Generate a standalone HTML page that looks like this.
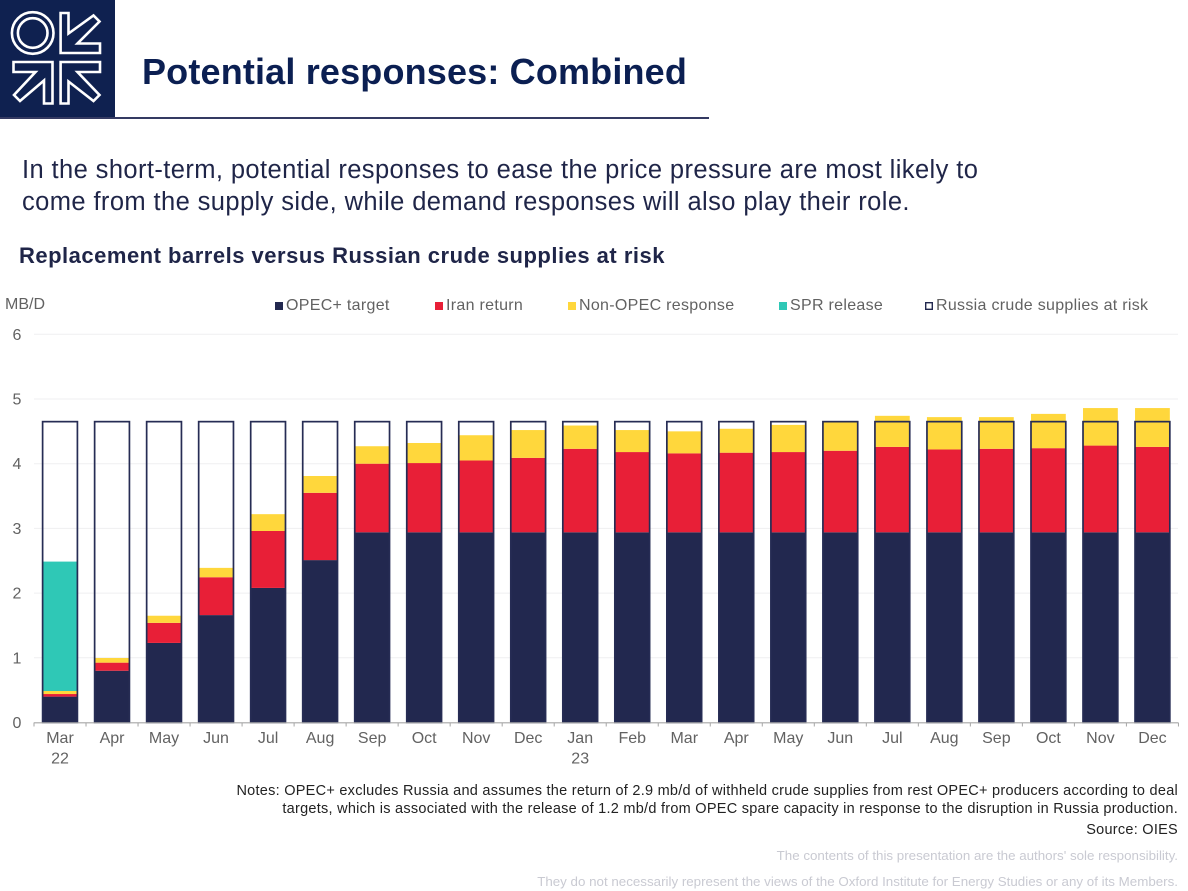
<!DOCTYPE html>
<html lang="en">
<head>
<meta charset="utf-8">
<title>Potential responses: Combined</title>
<style>
html,body{margin:0;padding:0;background:#fff;}
#slide{position:relative;width:1188px;height:891px;overflow:hidden;background:#fff;font-family:"Liberation Sans",sans-serif;}
.t{position:absolute;white-space:nowrap;}
.r{position:absolute;white-space:nowrap;right:10px;text-align:right;font-size:14.5px;line-height:18px;letter-spacing:.26px;}
.d{position:absolute;white-space:nowrap;right:10px;text-align:right;font-size:13.35px;line-height:18px;color:#c9cad2;}
svg text{font-family:"Liberation Sans",sans-serif;}
</style>
</head>
<body>
<div id="slide">
  <svg style="position:absolute;left:0;top:0" width="115" height="118" viewBox="0 0 115 118">
    <rect width="115" height="118" fill="#0f2150"/>
    <g fill="none" stroke="#fff" stroke-width="2.6">
      <circle cx="32.7" cy="33" r="20.8"/>
      <circle cx="32.7" cy="33" r="14.8"/>
      <polygon points="60.6,13 68.5,13 68.5,33.5 93.5,15.5 99.5,21.5 77.5,43.5 100,43.5 100,53 60.6,53"/>
      <polygon points="60.6,62 60.6,103.5 68.5,103.5 68.5,81.5 93.5,101 99.5,95 77.5,72 100,72 100,62"/>
      <polygon points="13.5,62 52.5,62 52.5,103.5 44,103.5 44,80.5 20,101 14,95 35.5,72 13.5,72"/>
    </g>
  </svg>
  <div style="position:absolute;left:0;top:117px;width:709px;height:2.2px;background:#343a62"></div>
  <div class="t" style="left:142px;top:51px;font-size:36px;line-height:42px;font-weight:bold;color:#0b1f52;letter-spacing:.17px">Potential responses: Combined</div>
  <div class="t" style="left:22px;top:155px;font-size:25.5px;line-height:31px;color:#1f2548;letter-spacing:.4px">In the short-term, potential responses to ease the price pressure are most likely to</div>
  <div class="t" style="left:22px;top:187px;font-size:25.5px;line-height:31px;color:#1f2548;letter-spacing:.4px">come from the supply side, while demand responses will also play their role.</div>
  <div class="t" style="left:19px;top:243px;font-size:22px;line-height:26px;font-weight:bold;color:#1f2548;letter-spacing:.5px">Replacement barrels versus Russian crude supplies at risk</div>

  <svg id="chart" style="position:absolute;left:0;top:290px" width="1188" height="490" viewBox="0 290 1188 490"></svg>

  <div class="r" style="top:782px;color:#222">Notes: OPEC+ excludes Russia and assumes the return of 2.9 mb/d of withheld crude supplies from rest OPEC+ producers according to deal</div>
  <div class="r" style="top:800px;color:#222">targets, which is associated with the release of 1.2 mb/d from OPEC spare capacity in response to the disruption in Russia production.</div>
  <div class="r" style="top:821px;color:#222">Source: OIES</div>
  <div class="d" style="top:847px">The contents of this presentation are the authors' sole responsibility.</div>
  <div class="d" style="top:873px">They do not necessarily represent the views of the Oxford Institute for Energy Studies or any of its Members.</div>
</div>
<script>
const categories = ["Mar","Apr","May","Jun","Jul","Aug","Sep","Oct","Nov","Dec","Jan","Feb","Mar","Apr","May","Jun","Jul","Aug","Sep","Oct","Nov","Dec"];
const subLabels = {0:"22",10:"23"};
const yTicks = [0,1,2,3,4,5,6];
const opecTarget = [0.40,0.80,1.23,1.66,2.08,2.51,2.94,2.94,2.94,2.94,2.94,2.94,2.94,2.94,2.94,2.94,2.94,2.94,2.94,2.94,2.94,2.94];
const iranReturn = [0.04,0.125,0.31,0.585,0.88,1.04,1.06,1.07,1.11,1.15,1.29,1.24,1.22,1.23,1.24,1.26,1.32,1.28,1.29,1.30,1.34,1.32];
const nonOpecResponse = [0.047,0.072,0.11,0.145,0.26,0.26,0.27,0.31,0.39,0.43,0.36,0.34,0.34,0.37,0.42,0.44,0.48,0.50,0.49,0.53,0.58,0.60];
const sprRelease = [2.0,0,0,0,0,0,0,0,0,0,0,0,0,0,0,0,0,0,0,0,0,0];
const russiaAtRisk = [4.65,4.65,4.65,4.65,4.65,4.65,4.65,4.65,4.65,4.65,4.65,4.65,4.65,4.65,4.65,4.65,4.65,4.65,4.65,4.65,4.65,4.65];

const svgNS = "http://www.w3.org/2000/svg";
const chart = document.getElementById("chart");
const x0 = 34, step = 52.02, barW = 34.8, y0 = 722.5, unit = 64.7;
const labelColor = "#626262";
const xCenter = i => x0 + step * (i + 0.5);
const yPos = v => y0 - v * unit;
function mk(tag, props) {
  const el = document.createElementNS(svgNS, tag);
  for (const k in props) el.setAttribute(k, props[k]);
  chart.appendChild(el);
  return el;
}

yTicks.forEach(t => {
  if (t > 0) {
    const g = mk("line", {x1: x0, x2: 1178, y1: yPos(t), y2: yPos(t), stroke: "#efeff1", "stroke-width": 1});
    
    
  }
  const l = mk("text", {x: 17, y: yPos(t) + 5.5, "text-anchor": "middle", "font-size": 16, fill: labelColor});
  l.textContent = t;
  
  
});

const stackSeries = [
  {name: "opec-target", vals: opecTarget, color: "#22284f"},
  {name: "iran-return", vals: iranReturn, color: "#e81f37"},
  {name: "non-opec-response", vals: nonOpecResponse, color: "#ffd73c"},
  {name: "spr-release", vals: sprRelease, color: "#2fc8b6"}
];
categories.forEach((c, i) => {
  let base = 0;
  stackSeries.forEach(s => {
    const v = s.vals[i];
    if (v > 0) {
      const r = mk("rect", {x: xCenter(i) - barW / 2, width: barW, y: yPos(base + v), height: yPos(base) - yPos(base + v), fill: s.color});
      
      
    }
    base += v;
  });
  const o = mk("rect", {x: xCenter(i) - barW / 2, width: barW, y: yPos(russiaAtRisk[i]), height: yPos(0) - yPos(russiaAtRisk[i]), fill: "none", stroke: "#262c54", "stroke-width": 1.7});
  
  
});

const axis = mk("line", {x1: x0, x2: 1178, y1: y0 + 0.3, y2: y0 + 0.3, stroke: "#a6a6a6", "stroke-width": 1.2});


for (let i = 0; i <= categories.length; i++) {
  const tk = mk("line", {x1: x0 + step * i, x2: x0 + step * i, y1: y0, y2: y0 + 4, stroke: "#a6a6a6", "stroke-width": 1});
  
  
}
categories.forEach((c, i) => {
  const l = mk("text", {x: xCenter(i), y: 743, "text-anchor": "middle", "font-size": 16, fill: labelColor});
  l.textContent = c;
  
  
  if (subLabels[i]) {
    const s = mk("text", {x: xCenter(i), y: 763.5, "text-anchor": "middle", "font-size": 16, fill: labelColor});
    s.textContent = subLabels[i];
    
    
  }
});

const yTitle = mk("text", {x: 5, y: 309, "font-size": 16, fill: labelColor});
yTitle.textContent = "MB/D";



const legendLabels = ["OPEC+ target","Iran return","Non-OPEC response","SPR release","Russia crude supplies at risk"];
const legendColors = ["#22284f","#e81f37","#ffd73c","#2fc8b6","#ffffff"];
const legendX = [275,435,568,779,925];
legendLabels.forEach((t, i) => {
  const sw = i === 4
    ? mk("rect", {x: legendX[i] + 0.7, y: 302.7, width: 6.6, height: 6.6, fill: "#fff", stroke: "#22284f", "stroke-width": 1.4})
    : mk("rect", {x: legendX[i], y: 302, width: 8, height: 8, fill: legendColors[i]});
  
  
  const l = mk("text", {x: legendX[i] + 11, y: 310, "font-size": 16, fill: labelColor, "letter-spacing": 0.3});
  l.textContent = t;
  
  
});
</script>
</body>
</html>
